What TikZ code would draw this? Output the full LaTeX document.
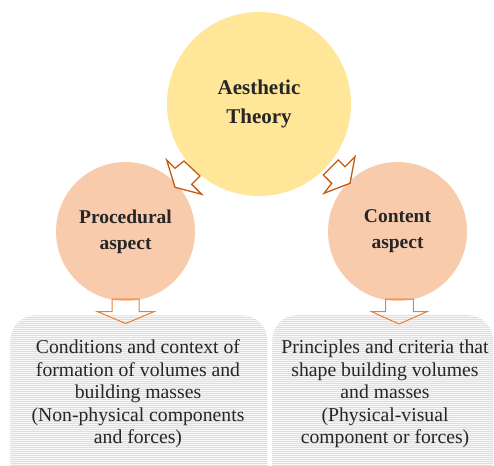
\documentclass[tikz,border=0pt]{standalone}
\usepackage{fontspec}
\setmainfont{Liberation Serif}
\usetikzlibrary{patterns.meta}
\definecolor{ythm}{HTML}{FFE699}
\definecolor{peach}{HTML}{F8CBAD}
\definecolor{darkor}{HTML}{C55A11}
\definecolor{lightor}{HTML}{ED7D31}
\definecolor{txt}{HTML}{262626}
\begin{document}
\begin{tikzpicture}[x=1pt,y=-1pt,
 bigcirc/.style={circle, fill=ythm, minimum size=184pt, inner sep=0pt, align=center, font=\fontsize{21}{29}\selectfont\bfseries, text=txt},
 sidecirc/.style={circle, fill=peach, minimum size=139pt, inner sep=0pt, align=center, font=\fontsize{19.5}{26}\selectfont\bfseries, text=txt},
 stripebox/.style={rectangle, rounded corners=25pt, anchor=north west, inner sep=0pt, preaction={fill=white!97!black}, pattern={Lines[angle=0,distance=2pt,line width=0.8pt]}, pattern color=black!13},
 boxtext/.style={align=center, font=\fontsize{19.7}{22.5}\selectfont, text=txt, inner sep=0pt},
 diagarrow/.style={draw=darkor, line width=1.3pt, fill=white, line join=miter},
 downarrow/.style={draw=lightor, line width=1pt, line join=miter}
]
\useasboundingbox (0,0) rectangle (494,465);
% boxes
\node[stripebox, minimum width=257pt, minimum height=185pt] (lbox) at (10,315) {};
\node[stripebox, minimum width=221pt, minimum height=185pt] (rbox) at (272,315) {};
\node[boxtext] (ltext) at (138,394) {Conditions and context of\\formation of volumes and\\building masses\\(Non-physical components\\and forces)};
\node[boxtext] (rtext) at (385,394) {Principles and criteria that\\shape building volumes\\and masses\\(Physical-visual\\component or forces)};
% circles
\node[bigcirc] (top) at (259,104) {Aesthetic\\Theory};
\node[sidecirc] (proc) at (125.5,231.5) {Procedural\\aspect};
\node[sidecirc] (cont) at (397.5,231.5) {Content\\aspect};
% diagonal block arrows
\draw[diagarrow] (175,187.3) -- (166.7,160) -- (175,168.3) -- (184,161) -- (200,176) -- (191.7,184.3) -- (201.7,194.3) -- cycle;
\draw[diagarrow] (350,183.3) -- (355,156.7) -- (345,166.7) -- (338.3,160) -- (323.3,175) -- (331.7,183.3) -- (324,193.3) -- cycle;
% down block arrows
\draw[downarrow] (112,299) -- (112,311.7) -- (97.7,311.7) -- (125.7,323.5) -- (154,311.7) -- (139,311.7) -- (139,299) -- cycle;
\draw[downarrow] (385.7,299) -- (385.7,311.7) -- (371.7,311.7) -- (399,324) -- (427,311.7) -- (413.3,311.7) -- (413.3,299) -- cycle;
\end{tikzpicture}
\end{document}
